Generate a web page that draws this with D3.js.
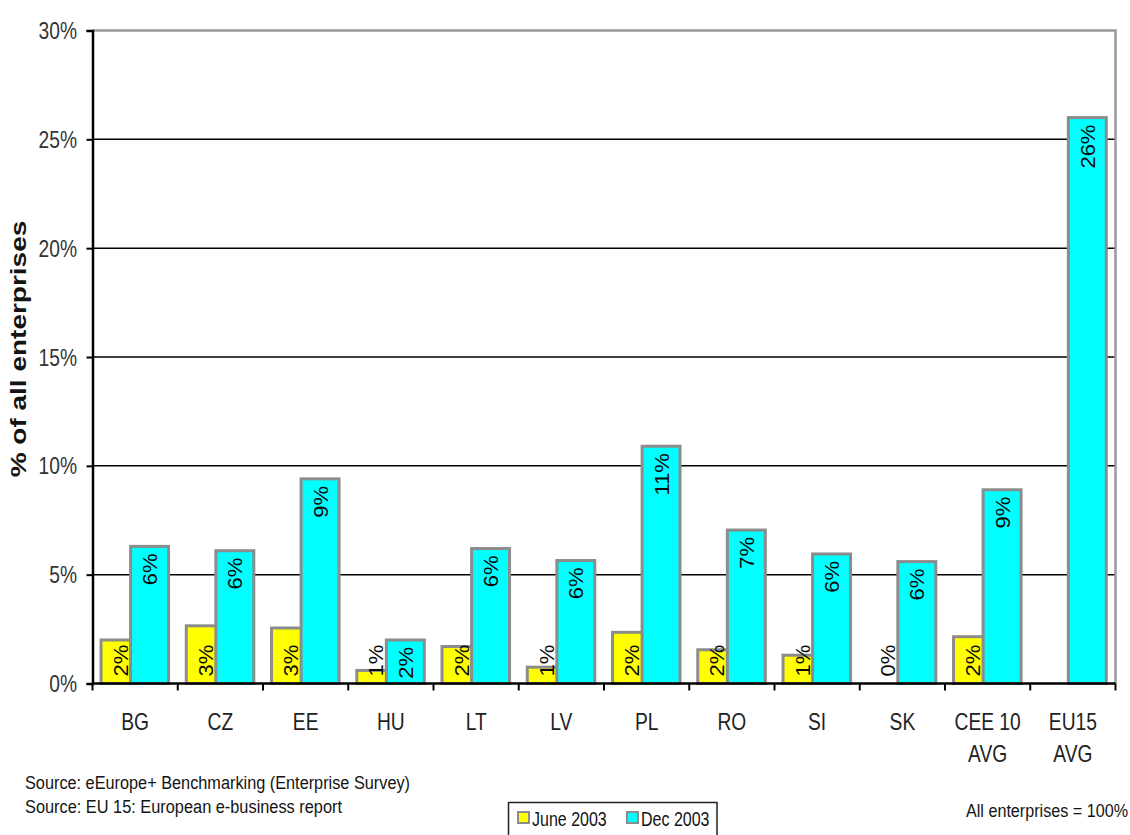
<!DOCTYPE html>
<html><head><meta charset="utf-8">
<script src="https://cdn.jsdelivr.net/npm/d3@7/dist/d3.min.js"></script>
<style>body{margin:0;background:#fff}</style>
</head><body><svg id="c" width="1130" height="835"></svg>
<script>
const categories = ["BG","CZ","EE","HU","LT","LV","PL","RO","SI","SK","CEE 10\nAVG","EU15\nAVG"];
const seriesNames = ["June 2003","Dec 2003"];
const june = [2.0,2.65,2.55,0.6,1.7,0.75,2.35,1.55,1.3,0,2.15,null];
const dec  = [6.3,6.1,9.4,2.0,6.2,5.65,10.9,7.05,5.95,5.6,8.9,26.0];
const yTicks = [0,5,10,15,20,25,30];
const yTitle = "% of all enterprises";
const sources = ["Source: eEurope+ Benchmarking (Enterprise Survey)","Source: EU 15: European e-business report"];
const note = "All enterprises = 100%";
const colors = ["#FFFF00","#00FFFF"];

const FONT = "'Liberation Sans', Arial, Helvetica, sans-serif";
const SQ = 0.8;
const svg = d3.select("#c");
svg.append("rect").attr("width",1130).attr("height",835).attr("fill","#fff");

const L = 92.5, R = 1115.5, TOP = 30.5, BOT = 683.5;
const x = d3.scaleBand().domain(categories).range([L, R]).padding(0);
const y = d3.scaleLinear().domain([0, 30]).range([BOT, TOP]);
const bw = x.bandwidth();
const barW = bw * 0.445;
const offs = [0.1 * bw, 0.447 * bw];

function txt(parent, px, py, str, o = {}) {
  const sq = o.sq ?? SQ;
  const t = parent.append("text")
    .attr("transform", `translate(${px},${py}) scale(${sq},1)` + (o.rot ? ` rotate(${o.rot})` : ""))
    .attr("font-size", o.size || 24)
    .attr("font-family", FONT)
    .attr("text-anchor", o.anchor || "start")
    .attr("fill", o.fill || "#141414")
    .text(str);
  if (o.bold) t.attr("font-weight", "bold");
  if (o.dy) t.attr("dy", o.dy);
  if (o.len) t.attr("textLength", o.len / sq).attr("lengthAdjust", "spacingAndGlyphs");
  return t;
}

// gridlines
svg.append("g").selectAll("line").data(yTicks.filter(d => d > 0 && d < 30)).join("line")
  .attr("x1", L).attr("x2", R).attr("y1", d => y(d)).attr("y2", d => y(d))
  .attr("stroke", "#000").attr("stroke-width", 1.5);

// plot border top & right (gray)
svg.append("path").attr("d", `M${L},${TOP}H${R}V${BOT}`).attr("fill", "none")
  .attr("stroke", "#9a9a9a").attr("stroke-width", 2.5);

// bars
const series = [june, dec];
const fmt = d3.format(".0%");
series.forEach((vals, si) => {
  const g = svg.append("g");
  categories.forEach((c, i) => {
    const v = vals[i];
    if (v === null || v === undefined) return;
    if (v > 0) {
      g.append("rect")
        .attr("x", x(c) + offs[si]).attr("y", y(v))
        .attr("width", barW).attr("height", y(0) - y(v))
        .attr("fill", colors[si]).attr("stroke", "#8c8c8c").attr("stroke-width", 3);
    }
  });
});
// labels
series.forEach((vals, si) => {
  const g = svg.append("g");
  categories.forEach((c, i) => {
    const v = vals[i];
    if (v === null || v === undefined) return;
    const cx = x(c) + offs[si] + barW / 2;
    if (si === 0) {
      txt(g, cx, BOT - 7, fmt(v / 100), {size: 22, sq: 0.95, rot: -90, anchor: "start", dy: "0.36em", fill: "#0a0a0a"});
    } else {
      txt(g, cx, y(v) + 7, fmt(v / 100), {size: 22, sq: 0.95, rot: -90, anchor: "end", dy: "0.36em", fill: "#0a0a0a"});
    }
  });
});

// y axis
const ya = svg.append("g").attr("transform", `translate(${L},0)`)
  .call(d3.axisLeft(y).tickValues(yTicks).tickSize(6).tickFormat(d => d + "%"));
ya.select(".domain").attr("stroke", "#000").attr("stroke-width", 2.5);
ya.selectAll(".tick line").attr("stroke", "#000").attr("stroke-width", 2);
ya.selectAll(".tick text").remove();
yTicks.forEach(d => txt(svg, 77, y(d), d + "%", {size: 24, anchor: "end", dy: "0.36em", fill: "#333"}));

// x axis
svg.append("line").attr("x1", L).attr("x2", R).attr("y1", BOT).attr("y2", BOT)
  .attr("stroke", "#000").attr("stroke-width", 2.5);
const bounds = categories.map(c => x(c)).concat([x.range()[1]]);
svg.append("g").selectAll("line").data(bounds).join("line")
  .attr("x1", d => d).attr("x2", d => d).attr("y1", BOT).attr("y2", BOT + 7)
  .attr("stroke", "#000").attr("stroke-width", 2);
categories.forEach(c => {
  const cx = x(c) + bw / 2;
  c.split("\n").forEach((line, k) => txt(svg, cx, 730 + k * 32, line, {size: 24, anchor: "middle", fill: "#222"}));
});

// y title
txt(svg, 18, 349, yTitle, {size: 28, bold: true, rot: -90, anchor: "middle", dy: "0.36em"});

// sources & note
txt(svg, 25, 789, sources[0], {size: 19, len: 385});
txt(svg, 25, 813, sources[1], {size: 19, len: 317});
txt(svg, 966, 817, note, {size: 19, len: 162});

// legend
const lg = svg.append("g");
lg.append("rect").attr("x", 508.5).attr("y", 802.5).attr("width", 208.5).attr("height", 40)
  .attr("fill", "#fff").attr("stroke", "#222").attr("stroke-width", 1.5);
const legX = [518, 627];
seriesNames.forEach((n, i) => {
  lg.append("rect").attr("x", legX[i]).attr("y", 812).attr("width", 11).attr("height", 11)
    .attr("fill", colors[i]).attr("stroke", "#8c8c8c").attr("stroke-width", 2);
  txt(lg, legX[i] + 14, 826, n, {size: 20});
});
</script></body></html>
